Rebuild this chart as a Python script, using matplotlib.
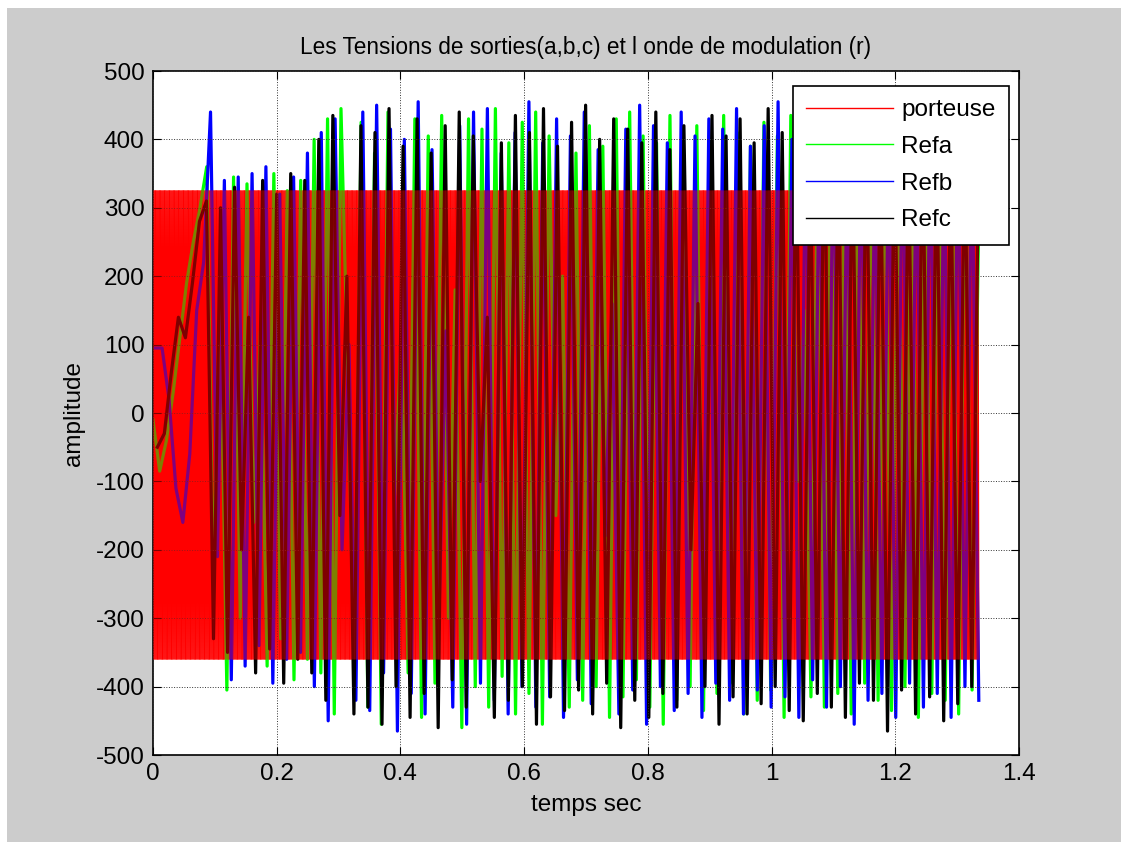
import numpy as np
import matplotlib
matplotlib.use("Agg")
import matplotlib.pyplot as plt
from matplotlib.patches import Rectangle

plt.rcParams['font.family'] = ['Liberation Sans', 'DejaVu Sans']
plt.rcParams['axes.unicode_minus'] = False

# porteuse : onde triangulaire entre ses deux crêtes
porteuse_crete = [325, -360]
porteuse_nb_periodes = 650
fin = 1.335

# tensions de sortie (demi-période ~0.0105 s)
refa = [-10, -85, -40, 30, 110, 190, 250, 300,
        360, -250, 170, -405, 345, -300, 335, -160, 120, -370, 350, -330,
        325, -390, 340, -360, 400, -380, 430, -440, 445, 60, -400, 425,
        -430, 380, -455, 440, -120, 120, -380, 430, -445, 405, -395, 435,
        -300, 180, -460, 430, -400, 415, -430, 445, -385, 395, -440, 425,
        -410, 440, -455, 405, -150, 200, -430, 380, -420, 420, -400, 390,
        -445, 430, -415, 440, -390, 405, -430, 395, -455, 435, -420, 380,
        -400, 420, -435, 400, -410, 435, -395, 410, -440, 390, -420, 425,
        -405, 405, -445, 435, -100, 150, -415, 390, -430, 430, -410, 395,
        -440, 420, -395, 405, -420, 435, -435, 385, -400, 415, -445, 395,
        -410, 430, -420, 390, -440, 425, -405, 300]
refb = [95, 95, 20, -110, -160, -60, 150, 220,
        440, -210, 340, -390, 345, -370, 350, -340, 360, -395, 320, -360,
        345, -350, 380, -400, 410, -450, 430, -200, 100, -420, 440, -435,
        450, -380, 415, -465, 400, -410, 455, -440, 385, -300, 120, -430,
        420, -455, 440, -395, 445, -420, 380, -440, 410, -400, 455, -430,
        395, -415, 430, -445, 405, -390, 440, -425, 385, -180, 160, -440,
        415, -405, 450, -455, 420, -400, 395, -435, 440, -410, 405, -445,
        430, -395, 415, -420, 445, -440, 390, -405, 420, -430, 455, -415,
        400, -445, 425, -390, 410, -430, 440, -400, 395, -455, 430, -420,
        380, -410, 415, -445, 440, -395, 400, -430, 425, -410, 390, -445,
        420, -400, 410, -420]
refc = [-50, -30, 60, 140, 110, 190, 280, 310,
        -330, 300, -350, 330, -200, 140, -380, 340, -345, 320, -395, 350,
        -360, 340, -380, 400, -420, 435, -150, 200, -440, 420, -430, 410,
        -455, 445, -400, 390, -445, 430, -410, 380, -460, 420, -390, 440,
        -430, 405, -100, 140, -445, 395, -420, 435, -400, 410, -455, 445,
        -415, 390, -435, 425, -405, 450, -440, 400, -395, 430, -460, 415,
        -420, 395, -445, 440, -410, 385, -430, 420, -200, 160, -400, 435,
        -455, 405, -415, 430, -440, 395, -425, 445, -400, 410, -435, 420,
        -450, 390, -410, 440, -430, 405, -445, 415, -395, 435, -420, 400,
        -465, 425, -405, 395, -440, 430, -415, 410, -450, 385, -425, 420,
        -400, 380]
# décalage de phase entre les trois tensions (s)
decalages = [0.0, 0.0035, 0.007]

fig = plt.figure(figsize=(11.21, 8.42), dpi=100, facecolor='#cccccc')
fig.add_artist(Rectangle((0, 0), 7 / 1121, 1, transform=fig.transFigure,
                         facecolor='white', edgecolor='none'))
fig.add_artist(Rectangle((0, 1 - 8 / 842), 1, 8 / 842, transform=fig.transFigure,
                         facecolor='white', edgecolor='none'))
ax = fig.add_axes([153 / 1121, 1 - 755 / 842, 866 / 1121, 684 / 842])

p = np.tile(porteuse_crete, porteuse_nb_periodes)
tp = np.linspace(0, fin, len(p))
h_p, = ax.plot(tp, p, color='red', lw=0.8, label='porteuse', zorder=1)

couleurs = ['#00ff00', '#0000ff', 'black']
noms = ['Refa', 'Refb', 'Refc']
poignees = [h_p]
for serie, dec, col, nom in zip([refa, refb, refc], decalages, couleurs, noms):
    t = np.linspace(dec, fin, len(serie))
    h, = ax.plot(t, serie, color=col, lw=2.3, label=nom, zorder=2)
    poignees.append(h)

# la porteuse, très serrée, se mélange aux autres traces dans sa bande
ax.plot(tp, p, color='red', lw=0.8, alpha=0.5, zorder=3)

ax.set_xlim(0, 1.4)
ax.set_ylim(-500, 500)
ax.set_xticks(np.arange(0, 1.41, 0.2))
ax.set_xticklabels(['0', '0.2', '0.4', '0.6', '0.8', '1', '1.2', '1.4'])
ax.set_yticks(np.arange(-500, 501, 100))
ax.tick_params(direction='in', top=True, right=True, length=6, labelsize=17.5)
ax.tick_params(axis='y', pad=6)
ax.tick_params(axis='x', pad=6)
ax.grid(True, linestyle=':', color='#333333', lw=0.7)
ax.set_axisbelow(False)
for s in ax.spines.values():
    s.set_linewidth(1.2)

ax.set_xlabel('temps sec', fontsize=17.5, labelpad=6)
ax.set_ylabel('amplitude', fontsize=17.5, labelpad=8)
ax.set_title('Les Tensions de sorties(a,b,c) et l onde de modulation (r)',
             fontsize=16.3, pad=12)

leg = ax.legend(handles=poignees, loc='upper left',
                bbox_to_anchor=(793 / 1121, 1 - 86 / 842),
                bbox_transform=fig.transFigure, borderaxespad=0,
                fontsize=17.5, fancybox=False, framealpha=1, edgecolor='black',
                handlelength=3.55, handletextpad=0.35, labelspacing=0.6,
                borderpad=0.55)
leg.set_zorder(10)
leg.get_frame().set_linewidth(1.2)
for h in leg.legend_handles:
    h.set_linewidth(1)

fig.savefig('out.png', dpi=100, facecolor=fig.get_facecolor())
